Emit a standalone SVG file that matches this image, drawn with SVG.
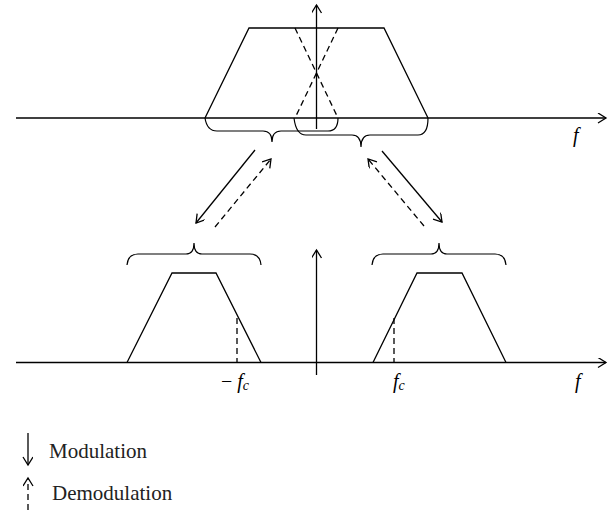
<svg xmlns="http://www.w3.org/2000/svg" width="613" height="510" viewBox="0 0 613 510">
<style>
.ln{fill:none;stroke:#000;stroke-width:1.3}
.ds{fill:none;stroke:#000;stroke-width:1.3;stroke-dasharray:6,4}
.br{fill:none;stroke:#000;stroke-width:1.2}
.lab{font-family:"Liberation Serif",serif;font-style:italic;font-size:20px;fill:#000}
.leg{font-family:"Liberation Serif",serif;font-size:21px;fill:#222}
</style>
<defs>
<marker id="ah" markerWidth="12" markerHeight="12" refX="9" refY="5" orient="auto" markerUnits="userSpaceOnUse">
<path d="M1,0 L9,5 L1,10" fill="none" stroke="#000" stroke-width="1.3"/>
</marker>
</defs>
<g id="top-spectrum">
<line class="ln" x1="16" y1="118" x2="606" y2="118" marker-end="url(#ah)"/>
<line class="ln" x1="316.5" y1="129" x2="316.5" y2="5" marker-end="url(#ah)"/>
<polyline class="ln" points="205,118 249,28 384,28 428,118"/>
<line class="ds" x1="295" y1="28" x2="338" y2="118"/>
<line class="ds" x1="338" y1="28" x2="295" y2="118"/>
<path class="br" d="M205,118 Q207,131 217,131 L263,131 Q272,131 272,142 Q272,131 281,131 L328,131 Q338,131 338,118"/>
<path class="br" d="M294,118 Q296,135 306,135 L352,135 Q361,135 361,147 Q361,135 370,135 L418,135 Q428,135 428,118"/>
<text class="lab" x="573" y="142">f</text>
</g>
<g id="connectors">
<line class="ln" x1="255" y1="150" x2="196" y2="223" marker-end="url(#ah)"/>
<line class="ds" x1="215" y1="227" x2="271" y2="159" marker-end="url(#ah)"/>
<line class="ln" x1="382" y1="151" x2="442" y2="222" marker-end="url(#ah)"/>
<line class="ds" x1="424" y1="226" x2="368" y2="159" marker-end="url(#ah)"/>
</g>
<g id="bottom-spectrum">
<line class="ln" x1="16" y1="362.5" x2="606" y2="362.5" marker-end="url(#ah)"/>
<line class="ln" x1="316.5" y1="375" x2="316.5" y2="250" marker-end="url(#ah)"/>
<polyline class="ln" points="127,362.5 172,273 216,273 261,362.5"/>
<line class="ds" x1="237" y1="318" x2="237" y2="362.5"/>
<polyline class="ln" points="373,362.5 417,273 462,273 506,362.5"/>
<line class="ds" x1="394" y1="318" x2="394" y2="362.5"/>
<path class="br" d="M127,265 Q128,254 138,254 L186,254 Q194,254 194,243 Q194,254 202,254 L250,254 Q260,254 261,265"/>
<path class="br" d="M372,265 Q373,254 383,254 L431,254 Q439,254 439,243 Q439,254 447,254 L495,254 Q505,254 506,265"/>
<text class="lab" x="221" y="388"><tspan font-style="normal">−</tspan> f<tspan font-size="14" dy="2">c</tspan></text>
<text class="lab" x="393" y="388">f<tspan font-size="14" dy="2">c</tspan></text>
<text class="lab" x="575" y="388">f</text>
</g>
<g id="legend">
<line class="ln" x1="28" y1="433" x2="28" y2="465" marker-end="url(#ah)"/>
<text class="leg" x="49" y="458">Modulation</text>
<line class="ds" x1="28" y1="510" x2="28" y2="478" marker-end="url(#ah)"/>
<text class="leg" x="52" y="500">Demodulation</text>
</g>
</svg>
